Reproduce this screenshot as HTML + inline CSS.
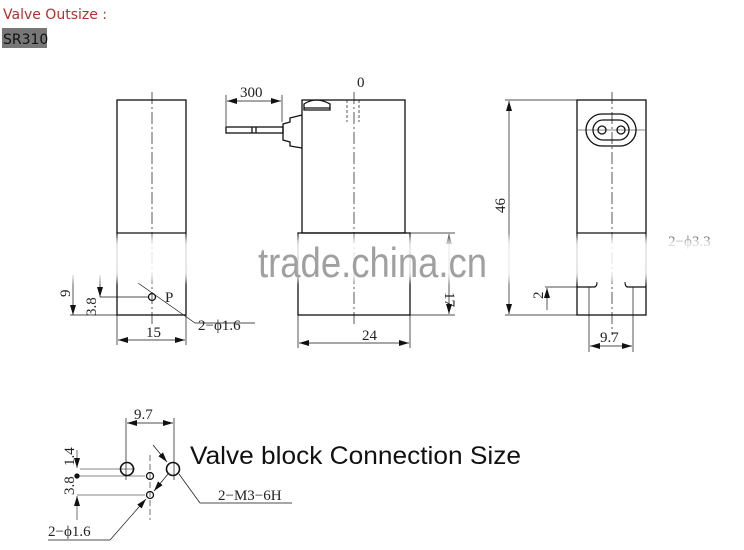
<!DOCTYPE html>
<html><head><meta charset="utf-8"><style>
html,body{margin:0;padding:0;background:#fff;width:744px;height:550px;overflow:hidden}
svg{display:block}
.t{font-family:"Liberation Serif",serif;font-size:15px;fill:#222}
</style></head><body>
<svg width="744" height="550" viewBox="0 0 744 550" xmlns="http://www.w3.org/2000/svg">
<defs>
<marker id="a" viewBox="0 0 10 6" refX="10" refY="3" markerWidth="10" markerHeight="6" orient="auto-start-reverse" markerUnits="userSpaceOnUse"><path d="M0,0L10,3L0,6z" fill="#111"/></marker>
<filter id="bl"><feGaussianBlur stdDeviation="4"/></filter>
</defs>
<text x="3" y="19" font-family="'Comic Sans MS','DejaVu Sans',sans-serif" font-size="14" fill="#b03030">Valve Outsize :</text>
<rect x="2" y="28" width="45" height="20" fill="#777"/>
<text x="3" y="44" font-family="'DejaVu Sans',sans-serif" font-size="14" fill="#111">SR310</text>

<g stroke="#111" stroke-width="1.3" fill="none">
<rect x="117" y="100" width="69" height="215"/>
<line x1="117" y1="233" x2="186" y2="233"/>
<line x1="152" y1="92" x2="152" y2="325" stroke-dasharray="12,3,2,3" stroke-width="0.7"/>
<circle cx="152" cy="297" r="3.5"/>
<line x1="100" y1="297" x2="148" y2="297" stroke-width="0.7"/>
<line x1="70" y1="315" x2="117" y2="315" stroke-width="0.7"/>
<line x1="73" y1="275" x2="73" y2="315" stroke-width="0.7" marker-end="url(#a)"/>
<line x1="100" y1="275" x2="100" y2="297" stroke-width="0.7" marker-end="url(#a)"/>
<line x1="117" y1="315" x2="117" y2="345" stroke-width="0.7"/>
<line x1="186" y1="315" x2="186" y2="345" stroke-width="0.7"/>
<line x1="118" y1="340" x2="185" y2="340" stroke-width="0.7" marker-start="url(#a)" marker-end="url(#a)"/>
<line x1="138" y1="283" x2="195" y2="323" stroke-width="0.7"/>
<line x1="195" y1="323" x2="255" y2="323" stroke-width="0.7"/>

<rect x="302" y="100" width="103" height="133"/>
<rect x="298" y="233" width="112" height="82"/>
<line x1="354" y1="92" x2="354" y2="325" stroke-dasharray="12,3,2,3" stroke-width="0.7"/>
<line x1="347" y1="100" x2="347" y2="122" stroke-dasharray="3,2" stroke-width="0.7"/>
<line x1="359" y1="100" x2="359" y2="122" stroke-dasharray="3,2" stroke-width="0.7"/>
<path d="M304,110 L304,104 Q316,96 330,104 L330,110 Z"/>
<line x1="304" y1="108" x2="330" y2="108"/>
<path d="M302,115 L290,118 L290,122 L283,124 L283,140 L290,142 L290,146 L302,148"/>
<rect x="226" y="127" width="57" height="6"/>
<line x1="252" y1="127" x2="252" y2="133"/>
<line x1="256" y1="127" x2="256" y2="133"/>
<line x1="226" y1="95" x2="226" y2="126" stroke-width="0.7"/>
<line x1="282" y1="95" x2="282" y2="122" stroke-width="0.7"/>
<line x1="227" y1="101" x2="281" y2="101" stroke-width="0.7" marker-start="url(#a)" marker-end="url(#a)"/>
<line x1="410" y1="233" x2="455" y2="233" stroke-width="0.7"/>
<line x1="410" y1="315" x2="455" y2="315" stroke-width="0.7"/>
<line x1="449" y1="234" x2="449" y2="314" stroke-width="0.7" marker-start="url(#a)" marker-end="url(#a)"/>
<line x1="298" y1="315" x2="298" y2="348" stroke-width="0.7"/>
<line x1="410" y1="315" x2="410" y2="348" stroke-width="0.7"/>
<line x1="299" y1="343" x2="409" y2="343" stroke-width="0.7" marker-start="url(#a)" marker-end="url(#a)"/>

<rect x="577" y="100" width="69" height="215"/>
<line x1="577" y1="233" x2="646" y2="233"/>
<line x1="612" y1="92" x2="612" y2="335" stroke-dasharray="12,3,2,3" stroke-width="0.7"/>
<rect x="586" y="114" width="50" height="32" rx="16"/>
<rect x="593" y="120" width="36" height="20" rx="10"/>
<circle cx="602" cy="130" r="4"/>
<circle cx="621" cy="130" r="4"/>
<line x1="578" y1="130" x2="645" y2="130" stroke-width="0.5"/>
<path d="M577,287 L594,287 Q597,287 597,282" />
<path d="M646,287 L628,287 Q625,287 625,282"/>
<line x1="505" y1="100" x2="577" y2="100" stroke-width="0.7"/>
<line x1="505" y1="315" x2="577" y2="315" stroke-width="0.7"/>
<line x1="509" y1="101" x2="509" y2="314" stroke-width="0.7" marker-start="url(#a)" marker-end="url(#a)"/>
<line x1="545" y1="287" x2="577" y2="287" stroke-width="0.7"/>
<line x1="547" y1="310" x2="547" y2="288" stroke-width="0.7" marker-end="url(#a)"/>
<line x1="589" y1="287" x2="589" y2="352" stroke-width="0.7"/>
<line x1="633" y1="287" x2="633" y2="352" stroke-width="0.7"/>
<line x1="590" y1="346" x2="632" y2="346" stroke-width="0.7" marker-start="url(#a)" marker-end="url(#a)"/>

<line x1="126" y1="418" x2="126" y2="480" stroke-width="0.7"/>
<line x1="174" y1="418" x2="174" y2="480" stroke-width="0.7"/>
<line x1="127" y1="423" x2="173" y2="423" stroke-width="0.7" marker-start="url(#a)" marker-end="url(#a)"/>
<circle cx="127" cy="469" r="6.5" stroke-width="1.6"/>
<circle cx="173" cy="469" r="6.5" stroke-width="1.6"/>
<circle cx="150" cy="476" r="3.5"/>
<circle cx="150" cy="495" r="3.5"/>
<line x1="150" y1="455" x2="150" y2="520" stroke-dasharray="6,3" stroke-width="0.6"/>
<line x1="80" y1="469" x2="135" y2="469" stroke-width="0.6"/>
<line x1="77" y1="476" x2="145" y2="476" stroke-width="0.6"/>
<line x1="77" y1="495" x2="145" y2="495" stroke-width="0.6"/>
<line x1="77" y1="450" x2="77" y2="468" stroke-width="0.6" marker-end="url(#a)"/>
<line x1="77" y1="520" x2="77" y2="496" stroke-width="0.6" marker-end="url(#a)"/>
<circle cx="77" cy="476" r="2" fill="#111"/>
<line x1="153" y1="445" x2="167" y2="462" stroke-width="0.7" marker-end="url(#a)"/>
<line x1="179" y1="474" x2="200" y2="503" stroke-width="0.7"/>
<line x1="200" y1="503" x2="292" y2="503" stroke-width="0.7"/>
<line x1="110" y1="540" x2="146" y2="499" stroke-width="0.7" marker-end="url(#a)"/>
<line x1="48" y1="540" x2="110" y2="540" stroke-width="0.7"/>
<line x1="168" y1="474" x2="154" y2="491" stroke-width="0.7" marker-end="url(#a)"/>
</g>

<text class="t" x="240" y="97">300</text>
<text class="t" x="357" y="87">0</text>
<text class="t" x="362" y="340">24</text>
<text class="t" x="146" y="337">15</text>
<text class="t" x="165" y="302">P</text>
<text class="t" x="198" y="330">2−ϕ1.6</text>
<text class="t" x="600" y="342">9.7</text>
<text class="t" x="668" y="246">2−ϕ3.3</text>
<text class="t" x="134" y="419">9.7</text>
<text class="t" x="218" y="500">2−M3−6H</text>
<text class="t" x="48" y="536">2−ϕ1.6</text>
<text transform="translate(70,297) rotate(-90)" class="t">9</text>
<text transform="translate(96,316) rotate(-90)" class="t">3.8</text>
<text transform="translate(445,292) rotate(90)" class="t">17</text>
<text transform="translate(505,213) rotate(-90)" class="t">46</text>
<text transform="translate(543,299) rotate(-90)" class="t">2</text>
<text transform="translate(74,466) rotate(-90)" class="t">1.4</text>
<text transform="translate(74,495) rotate(-90)" class="t">3.8</text>
<text x="190" y="464" font-family="'Liberation Sans',sans-serif" font-size="25" fill="#111" textLength="331" lengthAdjust="spacingAndGlyphs">Valve block Connection Size</text>

<rect x="60" y="238" width="684" height="42" fill="#fff" opacity="0.85" filter="url(#bl)"/>
<text x="258" y="277" font-family="'Liberation Sans',sans-serif" font-size="42" fill="#a0a0a0" textLength="229" lengthAdjust="spacingAndGlyphs">trade.china.cn</text>
</svg>
</body></html>
